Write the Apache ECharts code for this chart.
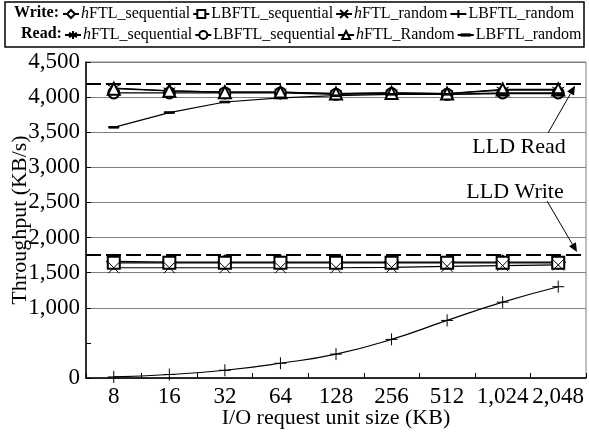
<!DOCTYPE html>
<html>
<head>
<meta charset="utf-8">
<script src="https://cdn.jsdelivr.net/npm/echarts@6/dist/echarts.min.js"></script>
<style>
  html, body { margin: 0; padding: 0; background: #fff; }
  #chart { width: 589px; height: 432px; }
</style>
</head>
<body>
<div id="chart"></div>
<script>
// request unit sizes (KB)
const categories = ["8", "16", "32", "64", "128", "256", "512", "1,024", "2,048"];
const yTicks = [0, 500, 1000, 1500, 2000, 2500, 3000, 3500, 4000, 4500];

// write throughput (KB/s)
const writeHftlSeq = [1660, 1650, 1650, 1650, 1650, 1650, 1650, 1650, 1650];
const writeLbftlSeq = [1640, 1640, 1640, 1640, 1640, 1640, 1640, 1640, 1640];
const writeHftlRand = [1570, 1570, 1570, 1570, 1570, 1575, 1590, 1600, 1610];
const writeLbftlRand = [15, 50, 110, 210, 340, 550, 820, 1080, 1300];

// read throughput (KB/s)
const readHftlSeq = [4130, 4090, 4070, 4070, 4050, 4060, 4050, 4100, 4100];
const readLbftlSeq = [4060, 4060, 4060, 4060, 4040, 4050, 4040, 4060, 4060];
const readHftlRand = [4120, 4090, 4070, 4070, 4050, 4060, 4050, 4110, 4110];
const readLbftlRand = [3570, 3780, 3930, 3990, 4020, 4040, 4040, 4050, 4050];

// raw device (LLD) limits
const lldNames = ["LLD Read", "LLD Write"];
const lldValues = [4190, 1750];

const FONT = "Liberation Serif";
const X_PATH = "path://M0,0L10,10M10,0L0,10";
const PLUS_PATH = "path://M5,0L5,10M0,5L10,5";
const STAR_PATH = "path://M5,0L5,10M0.7,2.5L9.3,7.5M9.3,2.5L0.7,7.5";
// short flat bar, the outer moves keep the box square
const DASH_PATH = "path://M0,0M0,4.2L10,4.2L10,5.8L0,5.8ZM10,10";

function makeSeries(name, data, symbol, size, extra) {
  return Object.assign({
    name: name,
    type: "line",
    data: data,
    symbol: symbol,
    symbolSize: size,
    showAllSymbol: true,
    animation: false,
    itemStyle: { color: "#000", borderColor: "#000", borderWidth: 1 },
    lineStyle: { color: "#000", width: 1.2 },
  }, extra || {});
}

function dashLine(v) {
  return {
    silent: true,
    symbol: "none",
    label: { show: false },
    lineStyle: { color: "#000", width: 2, type: [15, 5] },
    data: [{ yAxis: v }],
  };
}

const series = [
  makeSeries("W hFTL_sequential", writeHftlSeq, "emptyDiamond", 13),
  makeSeries("W LBFTL_sequential", writeLbftlSeq, "emptyRect", 12),
  makeSeries("W hFTL_random", writeHftlRand, X_PATH, 11),
  makeSeries("W LBFTL_random", writeLbftlRand, PLUS_PATH, 12, {
    smooth: true,
    markLine: dashLine(lldValues[1]),
  }),
  makeSeries("R hFTL_sequential", readHftlSeq, STAR_PATH, 12),
  makeSeries("R LBFTL_sequential", readLbftlSeq, "emptyCircle", 11),
  makeSeries("R hFTL_Random", readHftlRand, "emptyTriangle", 12),
  makeSeries("R LBFTL_random", readLbftlRand, DASH_PATH, 10, {
    markLine: dashLine(lldValues[0]),
  }),
];

// gridline at 500 is not drawn in the original
const splitColors = yTicks.map((v) => (v === 500 ? "rgba(0,0,0,0)" : "#808080"));

function legendBlock(top, left, names) {
  return {
    top: top,
    left: left,
    width: 527,
    padding: 0,
    itemWidth: 16,
    itemHeight: 10,
    itemGap: 2,
    data: names,
    selectedMode: false,
    textStyle: {
      fontFamily: FONT,
      fontSize: 16,
      color: "#000",
      padding: [0, 0, 0, -3],
      rich: { i: { fontFamily: FONT, fontSize: 16, fontStyle: "italic", color: "#000" } },
    },
    formatter: (name) => {
      const t = name.slice(2);
      return t[0] === "h" ? "{i|h}" + t.slice(1) : t;
    },
  };
}

const chart = echarts.init(document.getElementById("chart"), null, { renderer: "canvas" });

chart.setOption({
  animation: false,
  backgroundColor: "#fff",
  textStyle: { fontFamily: FONT },
  legend: [
    legendBlock(6, 62, series.slice(0, 4).map((s) => s.name)),
    legendBlock(27, 64, series.slice(4).map((s) => s.name)),
  ],
  grid: {
    left: 86,
    right: 3,
    top: 62,
    bottom: 54,
    outerBoundsMode: "none",
    containLabel: false,
    show: true,
    borderColor: "#808080",
    borderWidth: 1,
  },
  xAxis: {
    type: "category",
    data: categories,
    boundaryGap: true,
    name: "I/O request unit size (KB)",
    nameLocation: "middle",
    nameGap: 29,
    nameMoveOverlap: false,
    nameTextStyle: { fontFamily: FONT, fontSize: 22, color: "#000" },
    axisLine: { lineStyle: { color: "#000", width: 1.5 } },
    axisTick: { show: true, inside: true, length: 5, lineStyle: { color: "#000" } },
    axisLabel: { fontFamily: FONT, fontSize: 23, color: "#000", margin: 7, interval: 0 },
    splitLine: { show: false },
  },
  yAxis: {
    type: "value",
    min: 0,
    max: 4500,
    interval: 500,
    name: "Throughput (KB/s)",
    nameLocation: "middle",
    nameGap: 55,
    nameMoveOverlap: false,
    nameTextStyle: { fontFamily: FONT, fontSize: 22, color: "#000" },
    axisLine: { show: true, lineStyle: { color: "#000", width: 1.5 } },
    axisTick: { show: true, inside: true, length: 5, lineStyle: { color: "#000" } },
    axisLabel: {
      fontFamily: FONT,
      fontSize: 23,
      color: "#000",
      margin: 6,
      formatter: (v) => (v === 500 ? "" : v.toLocaleString("en-US")),
    },
    splitLine: { show: true, lineStyle: { color: splitColors, width: 1 } },
  },
  series: series,
});

// legend frame, row headers and LLD annotations
function arrow(x1, y1, x2, y2) {
  const a = Math.atan2(y2 - y1, x2 - x1);
  const len = 9, half = 4;
  const bx = x2 - len * Math.cos(a), by = y2 - len * Math.sin(a);
  const px = -Math.sin(a) * half, py = Math.cos(a) * half;
  return [
    { type: "line", silent: true, shape: { x1: x1, y1: y1, x2: bx, y2: by }, style: { stroke: "#000", lineWidth: 1 } },
    {
      type: "polygon",
      silent: true,
      shape: { points: [[x2, y2], [bx + px, by + py], [bx - px, by - py]] },
      style: { fill: "#000" },
    },
  ];
}

const yRead = chart.convertToPixel({ yAxisIndex: 0 }, lldValues[0]);
const yWrite = chart.convertToPixel({ yAxisIndex: 0 }, lldValues[1]);

chart.setOption({
  graphic: [
    { type: "rect", silent: true, shape: { x: 5, y: 2, width: 579, height: 45 }, style: { fill: "none", stroke: "#000", lineWidth: 1.5 } },
    { type: "text", silent: true, style: { x: 14, y: 13, text: "Write:", font: "bold 16px " + FONT, fill: "#000", verticalAlign: "middle" } },
    { type: "text", silent: true, style: { x: 21, y: 34, text: "Read:", font: "bold 16px " + FONT, fill: "#000", verticalAlign: "middle" } },
    { type: "text", silent: true, style: { x: 519, y: 147, text: lldNames[0], font: "22px " + FONT, fill: "#000", align: "center", verticalAlign: "middle" } },
    { type: "text", silent: true, style: { x: 515, y: 192, text: lldNames[1], font: "22px " + FONT, fill: "#000", align: "center", verticalAlign: "middle" } },
  ]
    .concat(arrow(548, 133, 575, yRead + 2))
    .concat(arrow(547, 201, 577, yWrite - 3)),
});
</script>
</body>
</html>
